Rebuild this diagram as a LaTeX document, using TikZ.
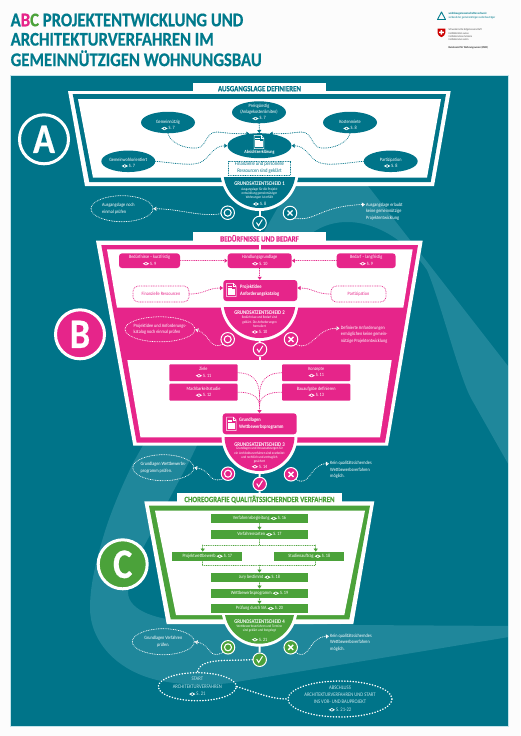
\documentclass[tikz,border=0pt]{standalone}
\usepackage{fontspec}
\usetikzlibrary{arrows.meta,shapes.geometric}
\newfontfamily\dax{Carlito}[FakeStretch=0.86]
\newfontfamily\daxh{Carlito}[FakeStretch=0.86,BoldFeatures={FakeBold=0.5}]
\definecolor{tealc}{HTML}{007489}
\definecolor{bandc}{HTML}{1F879B}
\definecolor{titlec}{HTML}{007A8C}
\definecolor{pinkc}{HTML}{E6258A}
\definecolor{greenc}{HTML}{4BA23A}
\definecolor{palec}{HTML}{C4E4EA}
\newcommand\eyeic[2]{\tikz[x=1pt,y=1pt,baseline=-1.3pt]{\fill[#1] (-3.2,0) .. controls (-1.3,2.2) and (1.3,2.2) .. (3.2,0) .. controls (1.3,-2.2) and (-1.3,-2.2) .. (-3.2,0); \fill[#2] (0,0) circle (0.95);}}
\newcommand\fsz[2]{\fontsize{#1}{#2}\selectfont}
\tikzset{
  txt/.style={inner sep=0pt,align=center,font=\dax\fsz{4.9}{6.1},text=white},
  smalltxt/.style={inner sep=0pt,align=center,font=\dax\fsz{3.6}{4.3},text=white},
  gatetitle/.style={inner sep=0pt,font=\dax\bfseries\fsz{5.6}{6},text=white},
  sidetxt/.style={inner sep=0pt,align=left,anchor=west,font=\dax\fsz{4.9}{6.4},text=white},
  tabtxt/.style={inner sep=0pt,font=\daxh\bfseries\fsz{8}{9}},
  titletxt/.style={inner sep=0,anchor=west,font=\daxh\bfseries\fsz{19.4}{20},text=titlec},
  tabbox/.style={fill=white,inner sep=0pt},
  ovalbox/.style={ellipse,fill=tealc,inner sep=0pt},
  roundbox/.style={fill=pinkc,rounded corners=3pt,inner sep=0pt},
  flatpink/.style={fill=pinkc,rounded corners=1pt,inner sep=0pt},
  greenbox/.style={fill=greenc,inner sep=0pt,minimum height=8.8pt,font=\dax\fsz{4.9}{5.6},text=white},
  dotoval/.style={ellipse,draw=white,line width=.8pt,dash pattern=on .3pt off 1.4pt,line cap=round,inner sep=0pt},
  bigoval/.style={ellipse,draw=white,line width=1.5pt,dash pattern=on .3pt off 2.5pt,line cap=round,inner sep=0pt},
  dotrect/.style={draw=#1,line width=.8pt,dash pattern=on .3pt off 1.4pt,line cap=round,inner sep=0pt},
  wire/.style={draw=#1,line width=.85pt,dash pattern=on .3pt off 1.5pt,line cap=round},
  conn/.style={wire=#1,-{Triangle[width=4pt,length=3pt,#1]}},
  bigwire/.style={draw=white,line width=1.5pt,dash pattern=on .3pt off 2.5pt,line cap=round},
  whitebar/.style={draw=white,line width=2pt},
  decide/.style={circle,draw=white,line width=1pt,fill=#1,minimum size=13.5pt,inner sep=0pt},
  ocirc/.style={decide=#1,path picture={\draw[white,line width=1.1pt] (path picture bounding box.center) circle (3.5pt);}},
  xcirc/.style={decide=#1,path picture={\draw[white,line width=1.4pt]
     ([shift={(-2.5pt,-2.5pt)}]path picture bounding box.center) -- ([shift={(2.5pt,2.5pt)}]path picture bounding box.center)
     ([shift={(-2.5pt,2.5pt)}]path picture bounding box.center) -- ([shift={(2.5pt,-2.5pt)}]path picture bounding box.center);}},
  ccirc/.style={decide=#1,path picture={\draw[white,line width=1pt]
     ([shift={(-3pt,.5pt)}]path picture bounding box.center) -- ([shift={(-1pt,-2.7pt)}]path picture bounding box.center) -- ([shift={(2.8pt,3.4pt)}]path picture bounding box.center);}},
  letter/.style={circle,draw=white,line width=3pt,fill=#1,minimum size=49pt,inner sep=0pt,font=\daxh\bfseries\fsz{42}{42},text=white},
  docicon/.pic={
    \draw[white,line width=.5pt,fill=#1] (-4.8,-6.7) -- (2,-6.7) -- (4.8,-3.8) -- (4.8,6.7) -- (-4.8,6.7) -- cycle;
    \draw[white,line width=.4pt] (2,-6.7) -- (2,-3.8) -- (4.8,-3.8);
    \fill[white] (-3.6,-.8) rectangle (3.6,5.2);
    \draw[white,line width=.35pt] (-3.6,-2.3) -- (1,-2.3);
    \draw[white,line width=.35pt] (-3.6,-3.9) -- (1,-3.9);
  },
}
\begin{document}
\begin{tikzpicture}[x=1pt,y=-1pt]
\useasboundingbox (0,0) rectangle (520,736);
\fill[white!99!black] (0,0) rectangle (520,736);

% title
\node[titletxt] (t1) at (10.5,20) {A\textcolor{pinkc}{B}\textcolor{greenc}{C} PROJEKTENTWICKLUNG UND};
\node[titletxt] (t2) at (10.5,39.3) {ARCHITEKTURVERFAHREN IM};
\node[titletxt] (t3) at (10.5,58.3) {GEMEINNÜTZIGEN WOHNUNGSBAU};

% logos
\draw[titlec,line width=.9pt,line join=round] (441.5,12) -- (445.5,19.5) -- (437.5,19.5) -- cycle;
\node[inner sep=0,anchor=west,font=\dax\bfseries\fsz{3}{3},text=titlec] (l1) at (448.3,14) {wohnbaugenossenschaften schweiz};
\node[inner sep=0,anchor=west,font=\dax\fsz{3}{3},text=titlec] (l2) at (448.3,17.7) {verband der gemeinnützigen wohnbauträger};
\fill[red!80!black] (437.5,28.5) -- (445.3,28.5) -- (445.3,33) .. controls (445.3,35) and (443,36.5) .. (441.4,37.2) .. controls (439.8,36.5) and (437.5,35) .. (437.5,33) -- cycle;
\fill[white] (440.6,30) rectangle (442.2,34.6) (439,31.5) rectangle (443.8,33.1);
\node[inner sep=0,anchor=north west,align=left,font=\dax\fsz{2.8}{3.4},text=black!70] (l3) at (448.3,28.5) {Schweizerische Eidgenossenschaft\\Confédération suisse\\Confederazione Svizzera\\Confederaziun svizra};
\node[inner sep=0,anchor=west,font=\dax\bfseries\fsz{2.8}{3},text=black!80] (l4) at (448.3,48) {Bundesamt für Wohnungswesen (BWO)};

% panel and background band
\fill[tealc] (10.5,75) rectangle (508.5,726.5);
\begin{scope}
\clip (10.5,75) rectangle (508.5,726.5);
\fill[bandc] (133,463) .. controls (120,490) and (112,510) .. (106,528) .. controls (96,560) and (90,585) .. (90,608)
  .. controls (90,640) and (115,670) .. (157,680) .. controls (180,685) and (205,686) .. (230,683)
  -- (515,636) -- (515,626) -- (355,625) -- (190,622)
  .. controls (160,620) and (128,612) .. (128,592) .. controls (128,575) and (142,550) .. (150,535)
  -- (190,460) -- (262,310) .. controls (280,270) and (300,222) .. (347,222)
  .. controls (380,222) and (410,245) .. (427,270) .. controls (440,300) and (460,380) .. (472,400)
  -- (515,476) -- (515,375) -- (368,186) -- (340,165) -- (290,186) -- cycle;
\end{scope}
\draw[palec,line width=.6pt] (10.5,75) rectangle (508.5,726.5);

% ---------- section A
\node[tabbox,minimum width=133.3pt,minimum height=13pt] (tabA) at (259.5,89) {};
\fill[white] (68,91) -- (450.7,91) -- (434,186) -- (85,186) -- cycle;
\fill[tealc] (72.7,94) -- (446,94) -- (430.7,182) -- (89.3,182) -- cycle;
\fill[white] (78,99) -- (441,99) -- (427,177.7) -- (93,177.7) -- cycle;
\begin{scope}
\clip (0,177.7) rectangle (520,240);
\fill[white] (259.5,172) circle (39pt);
\fill[tealc] (259.5,172) circle (36pt);
\end{scope}
\node[tabtxt,text=tealc] at (tabA.center |- 0,88.7) {AUSGANGSLAGE DEFINIEREN};

\node[ovalbox,minimum width=54pt,minimum height=22pt] (preis) at (259,112.3) {};
\node[txt] at (259,112.5) {Preisgünstig\\(Anlagekostenlimiten)\\\eyeic{white}{tealc} S. 7};
\node[ovalbox,minimum width=54pt,minimum height=21.5pt] (gem) at (168,122.5) {};
\node[txt] at (168,125.5) {Gemeinnützig\\\eyeic{white}{tealc} S. 7};
\node[ovalbox,minimum width=54pt,minimum height=21.5pt] (kost) at (350,122.5) {};
\node[txt] at (350,125.5) {Kostenmiete\\\eyeic{white}{tealc} S. 8};
\node[ovalbox,minimum width=54pt,minimum height=21.5pt] (wohl) at (128.3,161.3) {};
\node[txt] at (128.3,163) {Gemeinwohlorientiert\\\eyeic{white}{tealc} S. 7};
\node[ovalbox,minimum width=54pt,minimum height=21.5pt] (part) at (390.7,161.3) {};
\node[txt] at (390.7,163) {Partizipation\\\eyeic{white}{tealc} S. 8};
\node[ovalbox,minimum width=64pt,minimum height=25pt] (abs) at (259.5,145.7) {};
\pic at (259,142) {docicon=tealc};
\node[txt,font=\dax\bfseries\fsz{4.7}{5.6}] at (259.5,152.5) {Absichtserklärung};
\node[dotrect=tealc,minimum width=62.4pt,minimum height=14pt] (fin) at (259.5,168) {};
\node[txt,text=tealc,font=\dax\fsz{5.4}{7}] at (259.5,168) {Finanzielle und personelle\\Ressourcen sind geklärt};

\draw[conn=tealc] (preis) -- (abs);
\draw[conn=tealc] (gem.south) .. controls (170,142) and (183,149) .. (197,148) .. controls (207,147) and (205,132) .. (217,132) .. controls (222,132) and (227,134) .. (abs.130);
\draw[conn=tealc] (wohl.east) .. controls (175,163) and (195,167) .. (203,161) .. controls (211,155) and (214,146) .. (abs.west);
\draw[conn=tealc] (kost.south) .. controls (348,142) and (335,149) .. (321,148) .. controls (311,147) and (313,132) .. (301,132) .. controls (296,132) and (291,134) .. (abs.50);
\draw[conn=tealc] (part.west) .. controls (345,163) and (325,167) .. (316,161) .. controls (308,155) and (305,146) .. (abs.east);

\node[gatetitle] (g1) at (259.5,184) {GRUNDSATZENTSCHEID 1};
\node[smalltxt] (g1d) at (259.5,193.4) {Ausgangslage für die Projekt-\\entwicklung gemeinnütziger\\Wohnungen ist erfüllt};
\node[txt] (g1p) at (259.5,204) {\eyeic{white}{tealc} S. 8};
\coordinate (g1b) at (259.5,210);
\node[ocirc=tealc] (o1) at (227.7,212.7) {};
\node[xcirc=tealc] (x1) at (290,213) {};
\node[ccirc=tealc] (c1) at (259.5,223) {};

\node[dotoval,minimum width=62pt,minimum height=26pt] (e1) at (122,208.7) {};
\node[sidetxt] at (102,208.7) {Ausgangslage noch\\einmal prüfen};
\node[sidetxt] (s1) at (366,211.4) {Ausgangslage erlaubt\\keine gemeinnützige\\Projektentwicklung};
\coordinate (s1a) at (365,204.5);
\draw[conn=white] (o1) .. controls (200,217) and (180,209) .. (e1.east);
\draw[conn=white] (x1.south east) .. controls (315,222) and (320,206) .. (s1a);

% ---------- section B
\node[tabbox,minimum width=133.3pt,minimum height=11pt] (tabB) at (259.5,237.5) {};
\fill[white] (96,240.7) -- (422.7,240.7) -- (388,445.7) -- (133.3,445.7) -- cycle;
\fill[pinkc] (101.3,245) -- (418,245) -- (385,442.7) -- (136.7,442.7) -- cycle;
\fill[white] (107,249.3) -- (412.7,249.3) -- (403.3,307.7) -- (117,307.7) -- cycle;
\fill[white] (127.3,360) -- (391.7,360) -- (380,437.3) -- (140.5,437.3) -- cycle;
\node[tabtxt,text=pinkc] at (259.5,238.3) {BEDÜRFNISSE UND BEDARF};
\draw[whitebar] (g1b) -- (c1);
\draw[whitebar] (c1) -- (259.5,231);
\draw[whitebar] (259.5,243) -- (259.5,249.5);

\begin{scope}
\clip (0,307.7) rectangle (520,360);
\fill[white] (259.5,302) circle (39pt);
\fill[pinkc] (259.5,302) circle (36pt);
\end{scope}

\node[roundbox,minimum width=61pt,minimum height=14.7pt] (bed) at (149.5,260.7) {};
\node[txt] at (149.5,260.7) {Bedürfnisse – kurzfristig\\\eyeic{white}{pinkc} S. 9};
\node[roundbox,minimum width=64pt,minimum height=14.7pt] (hand) at (259.7,260.7) {};
\node[txt] at (259.7,260.7) {Handlungsgrundlage\\\eyeic{white}{pinkc} S. 10};
\node[roundbox,minimum width=59pt,minimum height=14.7pt] (lang) at (366.2,260.7) {};
\node[txt] at (366.2,260.7) {Bedarf – langfristig\\\eyeic{white}{pinkc} S. 9};
\node[roundbox,minimum width=74pt,minimum height=21pt] (proj) at (260.3,290.5) {};
\pic at (231.3,290) {docicon=pinkc};
\node[txt,align=left,anchor=west,font=\dax\bfseries\fsz{5.2}{7}] at (240,290.5) {Projektidee\\Anforderungskatalog};
\node[dotrect=pinkc,rounded corners=5pt,minimum width=56pt,minimum height=16pt] (fres) at (161,294) {};
\node[txt,text=pinkc] at (161,294) {Finanzielle Ressourcen};
\node[dotrect=pinkc,rounded corners=5pt,minimum width=55pt,minimum height=16pt] (fpart) at (358.5,294) {};
\node[txt,text=pinkc] at (358.5,294) {Partizipation};
\draw[conn=pinkc] (bed) -- (hand);
\draw[conn=pinkc] (lang) -- (hand);
\draw[conn=pinkc] (hand) -- (hand |- proj.north);
\draw[conn=pinkc] (fres) .. controls (205,294) and (207,288) .. ([yshift=2.5pt]proj.west);
\draw[conn=pinkc] (fpart) .. controls (315,294) and (313,288) .. ([yshift=2.5pt]proj.east);

\node[gatetitle] (g2) at (259.5,312.7) {GRUNDSATZENTSCHEID 2};
\node[smalltxt] (g2d) at (259.5,322) {Bedürfnisse und Bedarf sind\\geklärt. Die Anforderungen\\formuliert};
\node[txt] (g2p) at (259.5,332) {\eyeic{white}{pinkc} S. 10};
\coordinate (g2b) at (259.5,340);
\node[ocirc=pinkc] (o2) at (227.7,339.3) {};
\node[xcirc=pinkc] (x2) at (291,339.3) {};
\node[ccirc=pinkc] (c2) at (260,349.3) {};
\draw[whitebar] (g2b) -- (c2);
\draw[whitebar] (c2) -- (260,360);
\node[dotoval,minimum width=70pt,minimum height=25pt] (e2) at (160,329.3) {};
\node[txt,align=left] at (160,329.5) {Projektidee und Anforderungs-\\katalog noch einmal prüfen};
\node[sidetxt] (s2) at (340.7,334.4) {Definierte Anforderungen\\ermöglichen keine gemein-\\nützige Projektentwicklung};
\coordinate (s2a) at (339.5,328.3);
\draw[conn=white] (o2.south west) .. controls (210,350) and (210,335) .. (e2.east);
\draw[conn=white] (x2.south east) .. controls (312,352) and (316,328) .. (s2a);

\node[flatpink,minimum width=68.4pt,minimum height=16.7pt] (ziele) at (203.5,372.7) {};
\node[txt] at (203.5,372.7) {Ziele\\\eyeic{white}{pinkc} S. 11};
\node[flatpink,minimum width=68.4pt,minimum height=16.7pt] (konz) at (316.2,372.7) {};
\node[txt] at (316.2,372.7) {Konzepte\\\eyeic{white}{pinkc} S. 11};
\node[flatpink,minimum width=68.4pt,minimum height=17pt] (mach) at (203.5,392.2) {};
\node[txt] at (203.5,392.2) {Machbarkeitsstudie\\\eyeic{white}{pinkc} S. 12};
\node[flatpink,minimum width=68.4pt,minimum height=17pt] (baua) at (316.2,392.2) {};
\node[txt] at (316.2,392.2) {Bauaufgabe definieren\\\eyeic{white}{pinkc} S. 13};
\node[roundbox,minimum width=74pt,minimum height=21pt] (grund) at (259.7,423.8) {};
\pic at (231.4,423.8) {docicon=pinkc};
\node[txt,align=left,anchor=west,font=\dax\bfseries\fsz{5.2}{7}] at (239,423.8) {Grundlagen\\Wettbewerbsprogramm};
\coordinate (j1) at (259.5,396);
\coordinate (j2) at (259.5,406);
\draw[wire=pinkc] (ziele.east) .. controls (252,373) and (259.5,380) .. (j1);
\draw[wire=pinkc] (konz.west) .. controls (267,373) and (259.5,380) .. (j1);
\draw[wire=pinkc] (mach.east) .. controls (250,392) and (259.5,396) .. (j2);
\draw[wire=pinkc] (baua.west) .. controls (269,392) and (259.5,396) .. (j2);
\draw[conn=pinkc] (j1) -- (j1 |- grund.north);

\begin{scope}
\clip (0,437.3) rectangle (520,490);
\fill[white] (259.5,436) circle (38pt);
\fill[pinkc] (259.5,436) circle (35pt);
\end{scope}
\node[gatetitle] (g3) at (259.5,445) {GRUNDSATZENTSCHEID 3};
\node[smalltxt] (g3d) at (259.5,455.3) {Grundlagen und Voraussetzungen für\\ein Architekturverfahren sind erarbeitet\\und rechtlich und vertraglich\\gesichert};
\node[txt] (g3p) at (259.5,466.7) {\eyeic{white}{pinkc} S. 14};
\coordinate (g3b) at (259.5,473);
\node[ocirc=pinkc] (o3) at (228,473.7) {};
\node[xcirc=pinkc] (x3) at (291,474.3) {};
\node[ccirc=pinkc] (c3) at (259.7,484) {};
\node[dotoval,minimum width=61pt,minimum height=26pt] (e3) at (163.3,467.7) {};
\node[txt,align=left] at (163.3,467.7) {Grundlagen Wettbewerbs-\\programm prüfen.};
\node[sidetxt] (s3) at (330,470) {Kein qualitätssicherndes\\Wettbewerbsverfahren\\möglich.};
\coordinate (s3a) at (329,463.7);
\draw[conn=white] (o3.south west) .. controls (208,484) and (212,470) .. (e3.east);
\draw[conn=white] (x3.south east) .. controls (310,488) and (310,464) .. (s3a);

% ---------- section C
\node[tabbox,minimum width=164.4pt,minimum height=11pt] (tabC) at (259.5,498.5) {};
\draw[whitebar] (g3b) -- (c3);
\draw[whitebar] (c3) -- (tabC);
\fill[white] (144.3,501.3) -- (374.3,501.3) -- (353.3,624) -- (166.7,624) -- cycle;
\fill[greenc] (149,505.7) -- (370,505.7) -- (349.3,619.3) -- (170.7,619.3) -- cycle;
\fill[white] (155,510.7) -- (365,510.7) -- (344.3,615) -- (176,615) -- cycle;
\node[tabtxt,text=greenc] at (259.5,499.3) {CHOREOGRAFIE QUALITÄTSSICHERNDER VERFAHREN};
\begin{scope}
\clip (0,615) rectangle (520,670);
\fill[white] (259.5,608.7) circle (38pt);
\fill[greenc] (259.5,608.7) circle (35pt);
\end{scope}
\node[greenbox,minimum width=97pt] (c_a) at (259.5,518.4) {Verfahrensbegleitung \eyeic{white}{greenc} S. 16};
\node[greenbox,minimum width=97pt] (c_b) at (259.5,534.4) {Verfahrensarten \eyeic{white}{greenc} S. 17};
\node[greenbox,minimum width=70pt] (c_p) at (207.3,556.2) {Projektwettbewerb \eyeic{white}{greenc} S. 17};
\node[greenbox,minimum width=70pt] (c_s) at (309.3,556.2) {Studienauftrag \eyeic{white}{greenc} S. 18};
\node[greenbox,minimum width=97pt] (c_j) at (259.5,577.2) {Jury bestimmt \eyeic{white}{greenc} S. 18};
\node[greenbox,minimum width=97pt] (c_w) at (259.5,593.2) {Wettbewerbsprogramm \eyeic{white}{greenc} S. 19};
\node[greenbox,minimum width=97pt] (c_x) at (259.5,608.4) {Prüfung durch SIA \eyeic{white}{greenc} S. 20};
\coordinate (ca) at (259.5,545);
\coordinate (cl) at (202.7,545);
\coordinate (cr) at (315.7,545);
\coordinate (da) at (259.5,565.2);
\coordinate (dl) at (202.7,565.2);
\coordinate (dr) at (315.7,565.2);
\draw[conn=greenc] (c_a) -- (c_b);
\draw[wire=greenc] (c_b) -- (ca);
\draw[wire=greenc] (cl) -- (cr);
\draw[conn=greenc] (cl) -- (cl |- c_p.north);
\draw[conn=greenc] (cr) -- (cr |- c_s.north);
\draw[wire=greenc] (dl) -- (dr);
\draw[wire=greenc] (dl |- c_p.south) -- (dl);
\draw[wire=greenc] (dr |- c_s.south) -- (dr);
\draw[conn=greenc] (da) -- (c_j);
\draw[conn=greenc] (c_j) -- (c_w);
\draw[conn=greenc] (c_w) -- (c_x);

\node[gatetitle] (g4) at (259.5,622) {GRUNDSATZENTSCHEID 4};
\node[smalltxt] (g4d) at (259.5,628.8) {Wettbewerbsverfahren und Termine\\sind geklärt und festgelegt};
\node[txt] (g4p) at (259.5,639.7) {\eyeic{white}{greenc} S. 21};
\coordinate (g4b) at (259.5,646);
\node[ocirc=greenc] (o4) at (228,647.3) {};
\node[xcirc=greenc] (x4) at (290.7,647.3) {};
\node[ccirc=greenc] (c4) at (259.7,659.7) {};
\draw[whitebar] (g4b) -- (c4);
\node[dotoval,minimum width=62pt,minimum height=26pt] (e4) at (163.3,641.7) {};
\node[txt] at (163.3,641.7) {Grundlagen Verfahren\\prüfen.};
\node[sidetxt] (s4) at (330,642.7) {Kein qualitätssicherndes\\Wettbewerbsverfahren\\möglich.};
\coordinate (s4a) at (329,636.3);
\draw[conn=white] (o4.south west) .. controls (208,660) and (212,645) .. (e4.east);
\draw[conn=white] (x4.south east) .. controls (310,662) and (308,637) .. (s4a);

\node[bigoval,minimum width=78pt,minimum height=28pt] (start) at (197.3,686.7) {};
\node[txt,text=palec,font=\dax\fsz{5.4}{7.4}] at (197.3,686.7) {START\\ARCHITEKTURVERFAHREN\\\eyeic{white}{tealc} S. 21};
\node[bigoval,minimum width=104pt,minimum height=36pt] (ende) at (340,699) {};
\node[txt,text=palec,font=\dax\fsz{5.4}{7.2}] at (340,699) {ABSCHLUSS\\ARCHITEKTURVERFAHREN UND START\\INS VOR- UND BAUPROJEKT\\\eyeic{white}{tealc} S. 21-22};
\draw[bigwire] (c4.west) .. controls (225,661) and (200,658) .. (start.north);
\draw[bigwire] (start.east) .. controls (255,692) and (270,699) .. (ende.west);

% ---------- letters
\node[letter=tealc] (la) at (44,139.3) {A};
\node[letter=pinkc] (lb) at (80,334.3) {B};
\node[letter=greenc] (lc) at (122.7,564.3) {C};
\end{tikzpicture}
\end{document}
